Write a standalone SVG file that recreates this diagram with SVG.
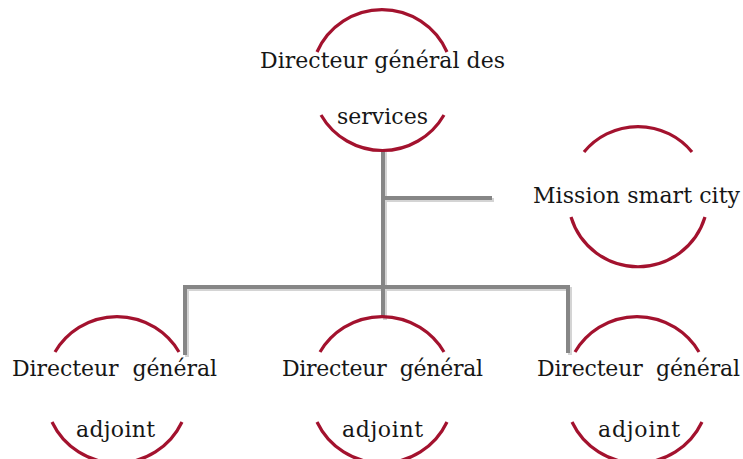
<svg xmlns="http://www.w3.org/2000/svg" width="743" height="459" viewBox="0 0 743 459">
  <defs>
    <style>
      .ring { fill: none; stroke: #a3122e; stroke-width: 3.2; stroke-linecap: butt; }
      .link { fill: none; stroke: #868686; stroke-width: 4; stroke-linejoin: miter; }
      .shade { fill: none; stroke: #d4d4d4; stroke-width: 4; stroke-linejoin: miter; }
      .label { font-family: "DejaVu Serif", "Liberation Serif", serif; font-size: 22px; fill: #161616; }
    </style>
  </defs>
  <rect width="743" height="459" fill="#ffffff"/>

  <!-- connectors -->
  <g id="connectors">
    <g transform="translate(2,2)">
      <path class="shade" d="M383,150 V287"/>
      <path class="shade" d="M383,198 H492"/>
      <path class="shade" d="M185,355 V287 H568 V353"/>
      <path class="shade" d="M383,287 V318"/>
    </g>
    <path class="link" d="M383,150 V287"/>
    <path class="link" d="M383,198 H492"/>
    <path class="link" d="M185,355 V287 H568 V353"/>
    <path class="link" d="M383,287 V318"/>
  </g>

  <!-- top: Directeur général des services -->
  <g id="dgs">
    <path class="ring" d="M317,52 A71,71 0 0 1 447,52"/>
    <path class="ring" d="M321,115 A71,71 0 0 0 444,115"/>
    <text class="label" x="260" y="68" textLength="245">Directeur général des</text>
    <text class="label" x="337" y="124" textLength="91">services</text>
  </g>

  <!-- right: Mission smart city -->
  <g id="mission">
    <path class="ring" d="M584,152 A70,70 0 0 1 692,152"/>
    <path class="ring" d="M571,217 A70,70 0 0 0 705,217"/>
    <text class="label" x="533" y="203" textLength="207">Mission smart city</text>
  </g>

  <!-- bottom left -->
  <g id="dga-1">
    <path class="ring" d="M55,352 A72,72 0 0 1 179,352"/>
    <path class="ring" d="M52,422 A72,72 0 0 0 182,422"/>
    <text class="label" x="12" y="376" textLength="205" xml:space="preserve">Directeur  général</text>
    <text class="label" x="76" y="437" textLength="79">adjoint</text>
  </g>

  <!-- bottom middle -->
  <g id="dga-2">
    <path class="ring" d="M320,352 A72,72 0 0 1 444,352"/>
    <path class="ring" d="M317,422 A72,72 0 0 0 447,422"/>
    <text class="label" x="282" y="376" textLength="201" xml:space="preserve">Directeur  général</text>
    <text class="label" x="342" y="437" textLength="81">adjoint</text>
  </g>

  <!-- bottom right -->
  <g id="dga-3">
    <path class="ring" d="M575,352 A72,72 0 0 1 699,352"/>
    <path class="ring" d="M572,422 A72,72 0 0 0 702,422"/>
    <text class="label" x="537" y="376" textLength="203" xml:space="preserve">Directeur  général</text>
    <text class="label" x="598" y="437" textLength="82">adjoint</text>
  </g>
</svg>
